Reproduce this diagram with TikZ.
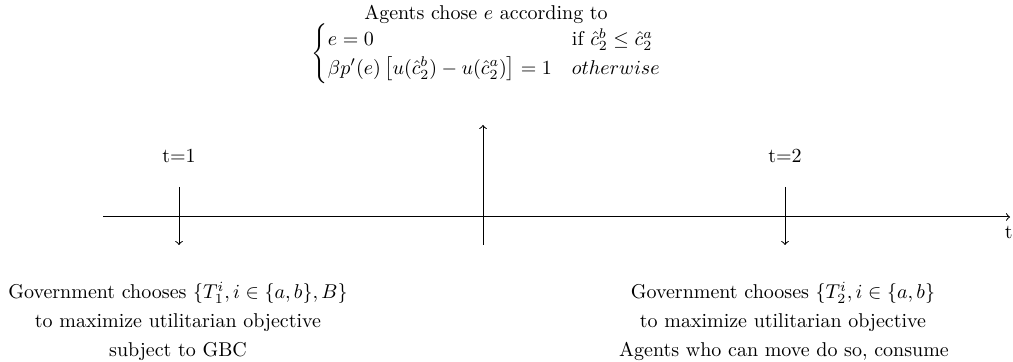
\documentclass[tikz,border=0pt]{standalone}
\usepackage{amsmath}
\begin{document}
\begin{tikzpicture}[x=0.5pt,y=-0.5pt,
  lbl/.style={inner sep=0pt,anchor=base},
  arr/.style={->,line width=0.5pt}]
\useasboundingbox (0,0) rectangle (1013,362);
% axis
\coordinate (ax0) at (103,217);
\coordinate (ax1) at (1010,217);
\draw[arr] (ax0) -- (ax1);
\node[inner sep=0pt,anchor=north east] (tlab) at (1013,226) {t};
% t=1
\node[lbl] (t1) at (179,163) {t=1};
\coordinate (t1a) at (179,187);
\coordinate (t1b) at (179,245);
\draw[arr] (t1a) -- (t1b);
% t=2
\node[lbl] (t2) at (785,163) {t=2};
\coordinate (t2a) at (785,187);
\coordinate (t2b) at (785,245);
\draw[arr] (t2a) -- (t2b);
% middle
\coordinate (ma) at (483,245);
\coordinate (mb) at (483,125);
\draw[arr] (ma) -- (mb);
% top text
\node[lbl] (top) at (486,20) {Agents chose $e$ according to};
\node[inner sep=0pt,anchor=center] (cases) at (487,54) {\def\arraystretch{0.95}$\begin{cases}
e=0 & \text{if } \hat c_2^b \le \hat c_2^a\\
\beta p'(e)\left[u(\hat c_2^b)-u(\hat c_2^a)\right]=1 & otherwise
\end{cases}$};
% bottom left
\node[lbl] (l1) at (178,299) {Government chooses $\{T_1^i, i\in\{a,b\}, B\}$};
\node[lbl] (l2) at (178,328) {to maximize utilitarian objective};
\node[lbl] (l3) at (178,356.5) {subject to GBC};
% bottom right
\node[lbl] (r1) at (783,299) {Government chooses $\{T_2^i, i\in\{a,b\}$};
\node[lbl] (r2) at (783,328) {to maximize utilitarian objective};
\node[lbl] (r3) at (784,356.5) {Agents who can move do so, consume};
\end{tikzpicture}
\end{document}
